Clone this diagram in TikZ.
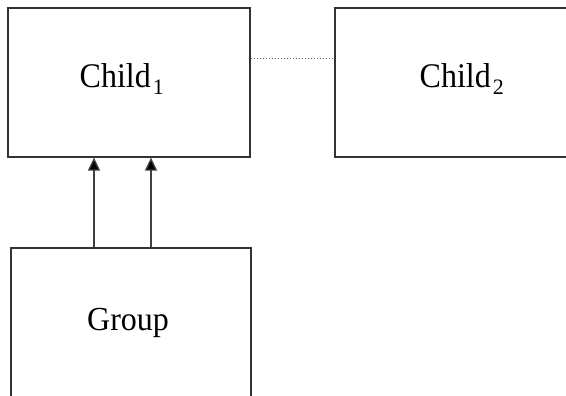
\documentclass[tikz,border=0pt]{standalone}
\usepackage{fontspec}
\setmainfont{Liberation Serif}
\usetikzlibrary{arrows.meta}
\newcommand{\childlabel}[1]{\scalebox{1}[1.08]{\fontsize{32}{34}\selectfont Child}\hspace{2pt}\raisebox{-7pt}{\fontsize{22}{24}\selectfont #1}}
\begin{document}
\begin{tikzpicture}[x=1pt,y=-1pt,
  box/.style={draw=black!80,line width=1.3pt,rectangle,inner sep=0pt},
  lbl/.style={anchor=base west,inner sep=0pt},
  link/.style={draw=black!75,line width=1.3pt,-{Triangle[length=13pt,width=12pt,fill=black]}},
  dots/.style={draw=black!60,line width=1pt,dotted}]
\useasboundingbox (0,0) rectangle (566,396);
\clip (0,0) rectangle (566,396);
\node[box,minimum width=242pt,minimum height=149pt] (c1) at (129,82.5) {};
\node[box,minimum width=255pt,minimum height=149pt] (c2) at (462.5,82.5) {};
\node[box,minimum width=240pt,minimum height=152pt] (g) at (131,324) {};
\node[lbl] (t1) at (79.5,88) {\childlabel{1}};
\node[lbl] (t2) at (419.5,88) {\childlabel{2}};
\node[lbl] (t3) at (87,330) {\scalebox{1}[1.05]{\fontsize{32}{34}\selectfont Group}};
\draw[dots] ([yshift=24pt]c1.east) -- ([yshift=24pt]c2.west);
\draw[link] ([xshift=-37pt]g.north) -- ([xshift=-35pt]c1.south);
\draw[link] ([xshift=20pt]g.north) -- ([xshift=22pt]c1.south);
\end{tikzpicture}
\end{document}
